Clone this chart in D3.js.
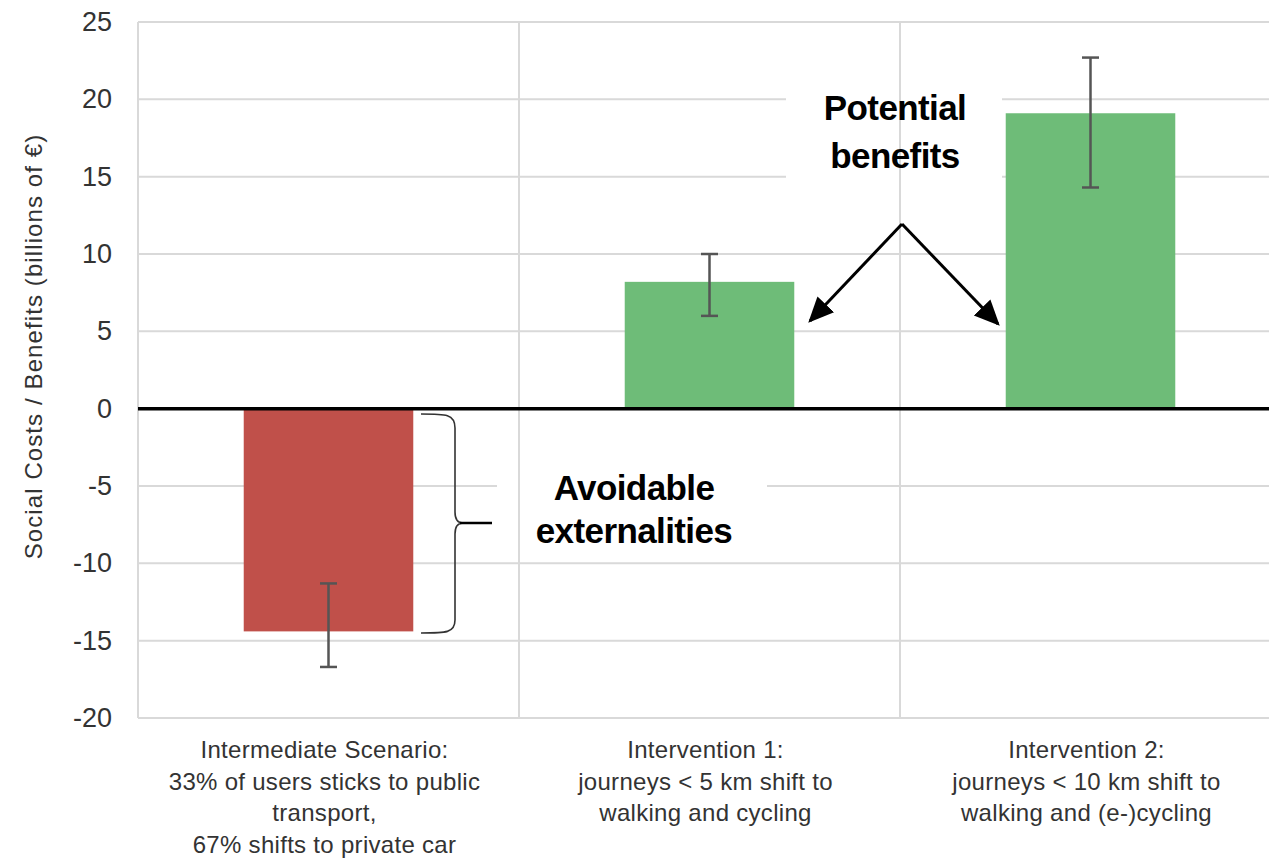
<!DOCTYPE html>
<html>
<head>
<meta charset="utf-8">
<script src="https://cdn.jsdelivr.net/npm/d3@7"></script>
<style>
  html, body { margin: 0; padding: 0; background: #fff; }
  svg { display: block; font-family: "Liberation Sans", Arial, sans-serif; }
</style>
</head>
<body>
<svg id="chart" width="1269" height="864"></svg>
<script>
// ---- data ----
const categories = ["Intermediate Scenario", "Intervention 1", "Intervention 2"];
const categoryLabels = [
  ["Intermediate Scenario:", "33% of users sticks to public", "transport,", "67% shifts to private car"],
  ["Intervention 1:", "journeys < 5 km shift to", "walking and cycling"],
  ["Intervention 2:", "journeys < 10 km shift to", "walking and (e-)cycling"]
];
const values = [-14.4, 8.2, 19.1];
const errLow = [-16.7, 6.0, 14.3];
const errHigh = [-11.3, 10.0, 22.7];
const barColors = ["#c0504a", "#6ebc78", "#6ebc78"];
const yTicks = [-20, -15, -10, -5, 0, 5, 10, 15, 20, 25];
const yTitle = "Social Costs / Benefits (billions of €)";
const annoBenefits = ["Potential", "benefits"];
const annoExternal = ["Avoidable", "externalities"];

// ---- layout ----
const svg = d3.select("#chart");
const pLeft = 138, pRight = 1281, pTop = 22, pBottom = 718;

const x = d3.scaleBand().domain(categories).range([pLeft, pRight]).padding(0);
const y = d3.scaleLinear().domain([-20, 25]).range([pBottom, pTop]);
const barW = x.bandwidth() * 0.445;

// horizontal gridlines
svg.append("g").selectAll("line").data(yTicks).join("line")
  .attr("x1", pLeft).attr("x2", pRight)
  .attr("y1", d => y(d)).attr("y2", d => y(d))
  .attr("stroke", "#d9d9d9").attr("stroke-width", 2);

// white boxes behind annotations (hide gridlines)
svg.append("rect").attr("x", 786).attr("y", 86).attr("width", 216).attr("height", 100).attr("fill", "#fff");
svg.append("rect").attr("x", 497).attr("y", 462).attr("width", 270).attr("height", 92).attr("fill", "#fff");

// vertical gridlines (band boundaries)
const vLines = [pLeft].concat(categories.map(c => x(c) + x.bandwidth()));
svg.append("g").selectAll("line").data(vLines).join("line")
  .attr("x1", d => d).attr("x2", d => d)
  .attr("y1", pTop).attr("y2", pBottom)
  .attr("stroke", "#d9d9d9").attr("stroke-width", 2);

// bars
svg.append("g").selectAll("rect").data(values).join("rect")
  .attr("x", (d, i) => x(categories[i]) + (x.bandwidth() - barW) / 2)
  .attr("width", barW)
  .attr("y", d => y(Math.max(0, d)))
  .attr("height", d => Math.abs(y(d) - y(0)))
  .attr("fill", (d, i) => barColors[i]);

// error bars
const eg = svg.append("g").attr("stroke", "#555").attr("stroke-width", 2.5);
values.forEach((v, i) => {
  const cx = x(categories[i]) + x.bandwidth() / 2;
  eg.append("line").attr("x1", cx).attr("x2", cx).attr("y1", y(errLow[i])).attr("y2", y(errHigh[i]));
  [errLow[i], errHigh[i]].forEach(e => {
    eg.append("line").attr("x1", cx - 8.5).attr("x2", cx + 8.5).attr("y1", y(e)).attr("y2", y(e));
  });
});

// zero line
svg.append("line").attr("x1", pLeft).attr("x2", pRight).attr("y1", y(0)).attr("y2", y(0))
  .attr("stroke", "#000").attr("stroke-width", 3.5);

// y axis
const yAxis = svg.append("g").attr("transform", `translate(${pLeft},0)`)
  .call(d3.axisLeft(y).tickValues(yTicks).tickSize(0).tickPadding(26).tickFormat(d => String(d)));
yAxis.select(".domain").remove();
yAxis.selectAll("text").attr("font-size", 27).attr("fill", "#333")
  .attr("font-family", "'Liberation Sans', Arial, sans-serif");

// y title
svg.append("text")
  .attr("transform", `translate(42,${(130 + 563) / 2}) rotate(-90)`)
  .attr("text-anchor", "middle")
  .attr("font-size", 24).attr("letter-spacing", 1.1).attr("fill", "#333")
  .text(yTitle);

// category labels
const lg = svg.append("g").attr("font-size", 24).attr("fill", "#333").attr("text-anchor", "middle");
categoryLabels.forEach((lines, i) => {
  const cx = x(categories[i]) + x.bandwidth() / 2 - 4;
  lines.forEach((t, j) => {
    lg.append("text").attr("x", cx).attr("y", 758 + j * 31.5).attr("letter-spacing", 0.3).text(t);
  });
});

// annotations
const ag = svg.append("g").attr("font-size", 35).attr("font-weight", "bold").attr("fill", "#000")
  .attr("text-anchor", "middle").attr("letter-spacing", -0.6);
annoBenefits.forEach((t, j) => ag.append("text").attr("x", 895).attr("y", 120 + j * 48).text(t));
annoExternal.forEach((t, j) => ag.append("text").attr("x", 634).attr("y", 500 + j * 43).text(t));

// arrows
const defs = svg.append("defs");
defs.append("marker").attr("id", "ah").attr("viewBox", "0 0 10 10")
  .attr("refX", 9).attr("refY", 5).attr("markerWidth", 8.5).attr("markerHeight", 8.5)
  .attr("markerUnits", "strokeWidth").attr("orient", "auto")
  .append("path").attr("d", "M0,0.5 L10,5 L0,9.5 Z").attr("fill", "#000");
const apex = [902, 224];
[[810, 321], [998, 324]].forEach(p => {
  svg.append("line").attr("x1", apex[0]).attr("y1", apex[1]).attr("x2", p[0]).attr("y2", p[1])
    .attr("stroke", "#000").attr("stroke-width", 3).attr("marker-end", "url(#ah)");
});

// brace
const brace = d3.path();
brace.moveTo(421, 414);
brace.bezierCurveTo(446, 414, 455, 414, 455, 428);
brace.lineTo(455, 512);
brace.bezierCurveTo(455, 520, 458, 523, 463, 523);
brace.bezierCurveTo(458, 523, 455, 526, 455, 534);
brace.lineTo(455, 620);
brace.bezierCurveTo(455, 633, 446, 633, 421, 633);
svg.append("path").attr("d", brace.toString()).attr("fill", "none")
  .attr("stroke", "#333").attr("stroke-width", 1.6);
svg.append("line").attr("x1", 460).attr("x2", 492).attr("y1", 523).attr("y2", 523)
  .attr("stroke", "#000").attr("stroke-width", 2.5);
</script>
</body>
</html>
